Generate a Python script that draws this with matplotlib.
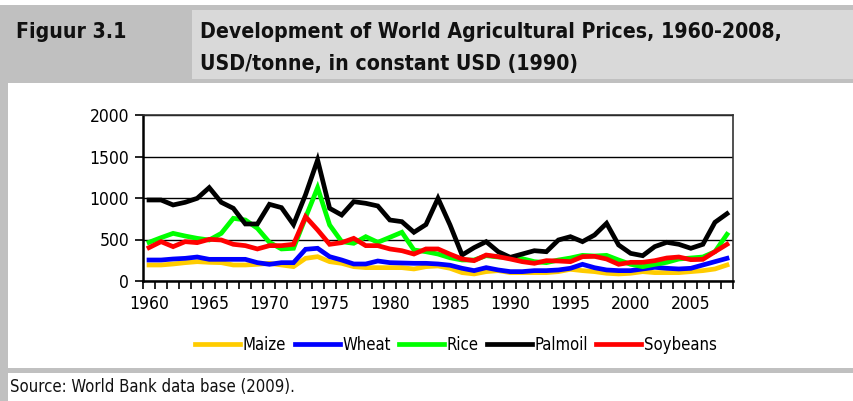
import matplotlib
matplotlib.use("Agg")
import matplotlib.pyplot as plt
from matplotlib.patches import Rectangle
from matplotlib import font_manager

years = list(range(1960, 2009))

maize = [193, 193, 205, 221, 233, 225, 221, 193, 193, 201, 213, 193, 173,
         273, 293, 233, 213, 173, 161, 161, 161, 161, 145, 173, 181, 153,
         101, 85, 113, 125, 101, 101, 101, 101, 113, 141, 125, 113,
         93, 85, 93, 113, 101, 101, 101, 113, 125, 145, 193]
wheat = [253, 253, 265, 273, 289, 261, 261, 261, 261, 221, 201, 221, 221,
         382, 394, 293, 253, 205, 205, 241, 221, 217, 213, 213, 205, 190,
         153, 125, 161, 133, 113, 113, 125, 125, 133, 153, 201, 160,
         133, 125, 125, 145, 165, 153, 145, 153, 193, 233, 273]
rice = [466, 522, 574, 542, 514, 494, 574, 755, 735, 635, 466, 386, 394,
        765, 1124, 675, 474, 454, 534, 466, 526, 587, 374, 353, 325, 280,
        253, 253, 305, 289, 285, 269, 233, 221, 253, 277, 309, 301,
        309, 253, 201, 173, 201, 225, 265, 277, 289, 353, 562]
palmoil = [976, 976, 916, 948, 996, 1125, 948, 876, 687, 687, 924, 884, 680,
           1040, 1458, 876, 795, 956, 936, 904, 735, 715, 587, 680, 996, 675,
           313, 402, 474, 353, 285, 325, 365, 353, 494, 534, 474, 554,
           695, 434, 333, 305, 414, 466, 442, 394, 442, 707, 811]
soybeans = [402, 474, 414, 474, 462, 502, 494, 442, 426, 386, 426, 426, 442,
            775, 615, 442, 462, 514, 426, 426, 386, 365, 325, 386, 386, 323,
            265, 245, 313, 293, 265, 233, 213, 245, 241, 233, 293, 297,
            265, 201, 225, 225, 245, 277, 289, 257, 261, 353, 442]

series = [("Maize", maize, "#FFCC00"),
          ("Wheat", wheat, "#0000FF"),
          ("Rice", rice, "#00FF00"),
          ("Palmoil", palmoil, "#000000"),
          ("Soybeans", soybeans, "#FF0000")]

# pick a condensed font if one is installed
fam, stretch = "Liberation Sans", "normal"
tt = font_manager.fontManager.ttflist
names = {f.name for f in tt}
if "Liberation Sans Narrow" in names:
    fam, stretch = "Liberation Sans Narrow", "normal"
else:
    for f in tt:
        if f.name == "DejaVu Sans" and f.stretch in ("condensed", "semi-condensed"):
            fam, stretch = "DejaVu Sans", f.stretch
            break
plt.rcParams['font.family'] = [fam, 'DejaVu Sans']
plt.rcParams['font.stretch'] = stretch

W, H = 854, 401
fig = plt.figure(figsize=(W / 100, H / 100), dpi=100)
fig.patch.set_facecolor("white")


def rect(x0, y0, x1, y1, color):
    fig.patches.append(Rectangle((x0 / W, 1 - y1 / H), (x1 - x0) / W, (y1 - y0) / H,
                                 transform=fig.transFigure, facecolor=color,
                                 edgecolor="none", zorder=0))


rect(0, 5, W, 83, "#c0c0c0")
rect(192, 10, W, 79, "#d9d9d9")
rect(0, 83, 8, H, "#c0c0c0")
rect(0, 368, W, 373, "#c0c0c0")

tsize = 15.2 if fam != "Liberation Sans" else 16
fig.text(16 / W, 1 - 32 / H, "Figuur 3.1", fontsize=tsize, fontweight="bold",
         va="center", ha="left", color="#111111")
fig.text(200 / W, 1 - 32 / H, "Development of World Agricultural Prices, 1960-2008,",
         fontsize=tsize, fontweight="bold", va="center", ha="left", color="#111111")
fig.text(200 / W, 1 - 64 / H, "USD/tonne, in constant USD (1990)",
         fontsize=tsize, fontweight="bold", va="center", ha="left", color="#111111")
fig.text(10 / W, 1 - 387 / H, "Source: World Bank data base (2009).",
         fontsize=12, va="center", ha="left", color="#111111")

ax = fig.add_axes([143 / W, (H - 281) / H, 590 / W, 166 / H])
x = list(range(len(years)))
for name, vals, col in series:
    ax.plot(x, vals, color=col, lw=3.4, label=name, solid_joinstyle="miter",
            zorder=3)

ax.set_xlim(-0.5, len(years) - 0.5)
ax.set_ylim(0, 2000)
ax.set_yticks([0, 500, 1000, 1500, 2000])
ax.set_yticklabels(["0", "500", "1000", "1500", "2000"])
ax.yaxis.grid(True, color="#000000", lw=1.0)
ax.set_axisbelow(True)

lab_idx = [i for i, y in enumerate(years) if y % 5 == 0]
ax.set_xticks(lab_idx)
ax.set_xticklabels([str(years[i]) for i in lab_idx])
ax.set_xticks([i - 0.5 for i in range(len(years) + 1)], minor=True)
ax.tick_params(axis="x", which="major", length=0, pad=10, labelsize=12.5)
ax.tick_params(axis="x", which="minor", length=6, width=1.2, direction="out")
ax.tick_params(axis="y", which="major", length=6, width=1.2, direction="out",
               labelsize=12.5, pad=4)

for s in ["left", "bottom"]:
    ax.spines[s].set_linewidth(1.8)
    ax.spines[s].set_color("black")
for s in ["top", "right"]:
    ax.spines[s].set_linewidth(1.2)
    ax.spines[s].set_color("#333333")

leg = ax.legend(loc="center", bbox_to_anchor=(456 / W, 1 - 345 / H),
                bbox_transform=fig.transFigure, ncol=5, frameon=False,
                fontsize=12, handlelength=2.7, handletextpad=0.15,
                columnspacing=0.5, borderaxespad=0)
for h in leg.get_lines():
    h.set_linewidth(3.4)

fig.savefig("out.png", dpi=100)
